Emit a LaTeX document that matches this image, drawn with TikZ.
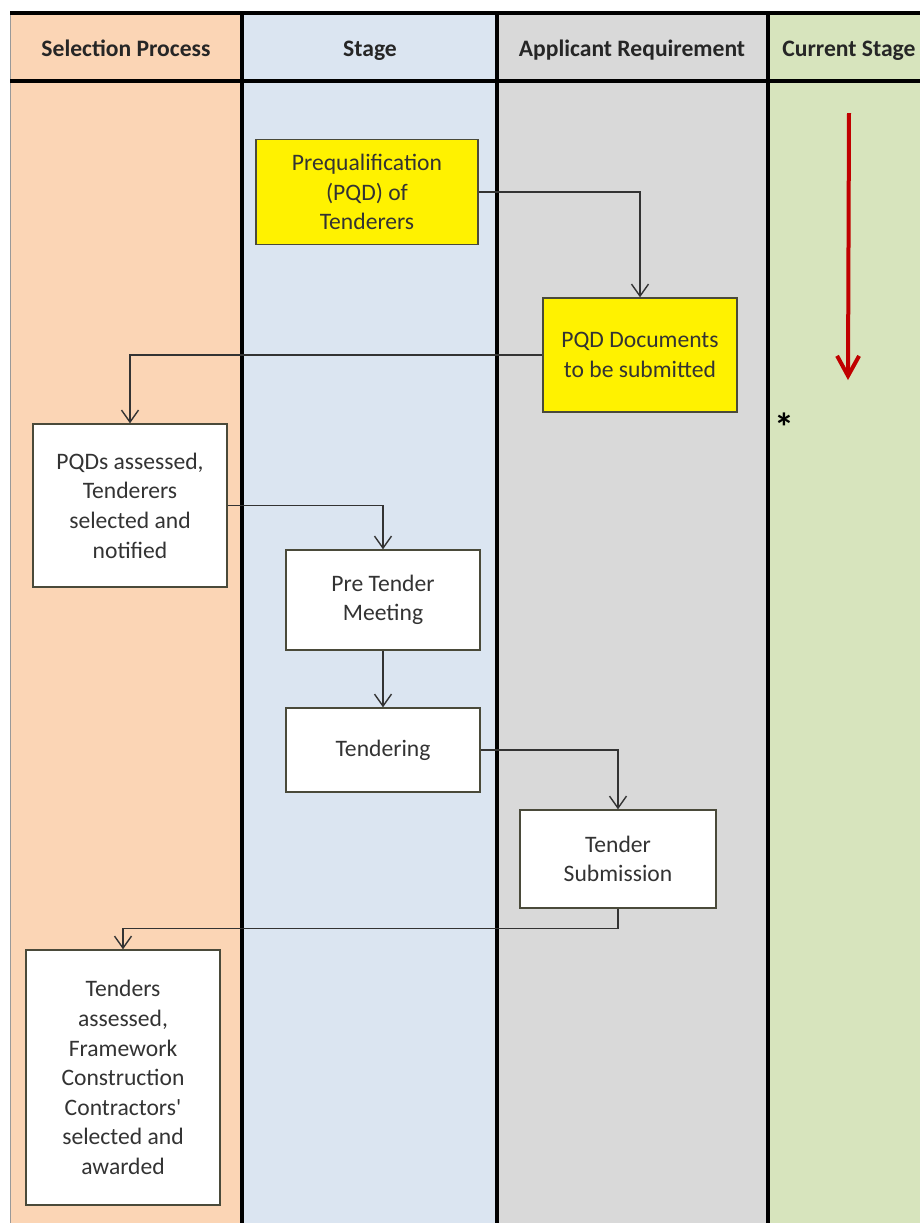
\documentclass[tikz,border=0pt]{standalone}
\usepackage{fontspec}
\setmainfont{Carlito}
\usetikzlibrary{arrows.meta}

\definecolor{procorange}{HTML}{FBD5B5}
\definecolor{stageblue}{HTML}{DBE5F1}
\definecolor{reqgray}{HTML}{D9D9D9}
\definecolor{curgreen}{HTML}{D7E4BD}
\definecolor{boxline}{HTML}{4A4A3A}
\definecolor{flowline}{HTML}{333333}
\definecolor{arrowred}{HTML}{C00000}

\tikzset{
  header/.style={font=\bfseries\fontsize{11.8}{14}\selectfont, text=black!85, anchor=base},
  stepbox/.style={draw=boxline, line width=0.7pt, fill=white, align=center, inner sep=0pt, font=\fontsize{11.8}{14.8}\selectfont, text=black!80},
  pqdbox/.style={stepbox, fill=yellow},
  flow/.style={draw=flowline, line width=0.7pt, -{Straight Barb[length=6pt,width=8.5pt]}},
  divider/.style={line width=1.8pt, black}
}

\begin{document}
\begin{tikzpicture}[x=0.5pt,y=-0.5pt]
	\useasboundingbox (0,0) rectangle (920,1223);
	% lanes
	\fill[procorange] (10,13) rectangle (242,1223);
	\fill[stageblue] (242,13) rectangle (497,1223);
	\fill[reqgray] (497,13) rectangle (768,1223);
	\fill[curgreen] (768,13) rectangle (920,1223);
	\draw[black!40, line width=0.5pt] (10,13) -- (10,1223);
	\draw[divider] (10,13) -- (920,13);
	\draw[divider] (10,81) -- (920,81);
	\foreach \x in {242,497,768}
		\draw[divider] (\x,13) -- (\x,1223);
	\node[header] (h1) at (126,56) {Selection Process};
	\node[header] (h2) at (370,56) {Stage};
	\node[header] (h3) at (632,56) {Applicant Requirement};
	\node[header] (h4) at (849,56) {Current Stage};
	% steps
	\node[pqdbox, minimum width=111pt, minimum height=52.5pt] (prequal) at (367,192) {Prequalification\\(PQD) of\\Tenderers};
	\node[pqdbox, minimum width=97pt, minimum height=57pt] (pqddocs) at (640,355) {PQD Documents\\to be submitted};
	\node[stepbox, minimum width=97pt, minimum height=81.5pt] (assessed) at (130,505.5) {PQDs assessed,\\Tenderers\\selected and\\notified};
	\node[stepbox, minimum width=97pt, minimum height=50pt] (pretender) at (383,600) {Pre Tender\\Meeting};
	\node[stepbox, minimum width=97pt, minimum height=42pt] (tendering) at (383,750) {Tendering};
	\node[stepbox, minimum width=98pt, minimum height=49pt] (submission) at (618,859) {Tender\\Submission};
	\node[stepbox, minimum width=97pt, minimum height=127.5pt] (awarded) at (123,1077.5) {Tenders\\assessed,\\Framework\\Construction\\Contractors\textquotesingle\\selected and\\awarded};
	% flow
	\draw[flow] (prequal.east) -| (pqddocs.north);
	\draw[flow] (pqddocs.west) -| (assessed.north);
	\draw[flow] (assessed.east) -| (pretender.north);
	\draw[flow] (pretender) -- (tendering);
	\draw[flow] (tendering.east) -| (submission.north);
	\draw[flow] (submission.south) -- ++(0,20) -| (awarded.north);
	% current stage
	\coordinate (curtop) at (849,113);
	\coordinate (curend) at (848,380);
	\draw[arrowred, line width=2pt, -{Straight Barb[length=10pt,width=11pt,line width=2pt]}] (curtop) -- (curend);
	\node[font=\bfseries\fontsize{20}{20}\selectfont] (star) at (784,427) {*};
\end{tikzpicture}
\end{document}
